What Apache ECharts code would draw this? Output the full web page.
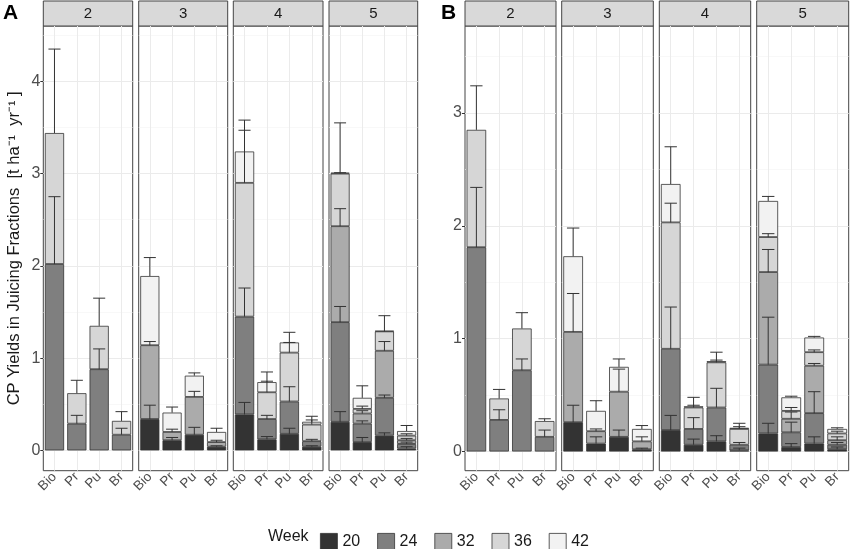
<!DOCTYPE html>
<html>
<head>
<meta charset="utf-8">
<script src="https://cdn.jsdelivr.net/npm/echarts@6.0.0/dist/echarts.min.js"></script>
<style>
  html, body { margin: 0; padding: 0; background: #fff; }
  #main { width: 851px; height: 549px; }
</style>
</head>
<body>
<div id="main"></div>
<script>
const fractions = ['Bio', 'Pr', 'Pu', 'Br'];
const weeks = ['20', '24', '32', '36', '42'];
const cuts = ['2', '3', '4', '5'];
// harvest weeks present in each cut regime (rows of the yield arrays follow this)
const cutWeeks = [['24', '36'], ['20', '32', '42'], ['20', '24', '36', '42'], ['20', '24', '32', '36', '42']];
const weekColors = ['#333333', '#7f7f7f', '#ababab', '#d6d6d6', '#f2f2f2'];
const yTicksA = [0, 1, 2, 3, 4];
const yTicksB = [0, 1, 2, 3];

// panel A - stacked segment heights (t/ha/yr) and sd drawn above each segment
const yieldA2 = [[2.02, 0.29, 0.88, 0.17], [1.42, 0.33, 0.47, 0.15]];
const sdA2    = [[0.73, 0.09, 0.22, 0.07], [0.91, 0.14, 0.30, 0.10]];
const yieldA3 = [[0.34, 0.11, 0.17, 0.04], [0.80, 0.09, 0.41, 0.05], [0.75, 0.21, 0.23, 0.11]];
const sdA3    = [[0.15, 0.03, 0.08, 0.01], [0.04, 0.03, 0.06, 0.02], [0.20, 0.06, 0.03, 0.04]];
const yieldA4 = [[0.39, 0.12, 0.18, 0.04], [1.06, 0.22, 0.35, 0.06], [1.45, 0.29, 0.53, 0.18], [0.34, 0.11, 0.11, 0.03]];
const sdA4    = [[0.13, 0.03, 0.06, 0.01], [0.31, 0.04, 0.16, 0.02], [0.57, 0.12, 0.11, 0.05], [0.34, 0.11, 0.11, 0.06]];
const yieldA5 = [[0.31, 0.09, 0.16, 0.02], [1.08, 0.20, 0.41, 0.05], [1.04, 0.11, 0.51, 0.04], [0.57, 0.05, 0.21, 0.05], [0.01, 0.12, 0.005, 0.05]];
const sdA5    = [[0.11, 0.05, 0.03, 0.02], [0.17, 0.03, 0.03, 0.02], [0.19, 0.03, 0.10, 0.02], [0.01, 0.03, 0.17, 0.02], [0.54, 0.13, 0, 0.06]];

// panel B
const yieldB2 = [[1.81, 0.28, 0.72, 0.13], [1.04, 0.19, 0.37, 0.14]];
const sdB2    = [[0.53, 0.09, 0.10, 0.06], [0.39, 0.08, 0.14, 0.02]];
const yieldB3 = [[0.26, 0.07, 0.13, 0.02], [0.80, 0.11, 0.40, 0.07], [0.67, 0.18, 0.22, 0.11]];
const sdB3    = [[0.15, 0.06, 0.06, 0.01], [0.34, 0.02, 0.20, 0.04], [0.25, 0.09, 0.07, 0.03]];
const yieldB4 = [[0.19, 0.06, 0.09, 0.01], [0.72, 0.14, 0.30, 0.05], [1.12, 0.19, 0.40, 0.14], [0.34, 0.01, 0.01, 0.01]];
const sdB4    = [[0.13, 0.05, 0.05, 0.02], [0.37, 0.10, 0.17, 0.02], [0.17, 0.09, 0.09, 0.05], [0.33, 0.01, 0.01, 0.01]];
const yieldB5 = [[0.16, 0.04, 0.07, 0.02], [0.61, 0.13, 0.27, 0.04], [0.82, 0.12, 0.42, 0.04], [0.31, 0.07, 0.12, 0.06], [0.32, 0.12, 0.13, 0.04]];
const sdB5    = [[0.09, 0.03, 0.06, 0.02], [0.42, 0.09, 0.19, 0.02], [0.20, 0.06, 0.02, 0.03], [0.03, 0.03, 0.02, 0.02], [0.04, 0.01, 0.01, 0.01]];

const panels = [
  { letter: 'A', yields: [yieldA2, yieldA3, yieldA4, yieldA5], sds: [sdA2, sdA3, sdA4, sdA5],
    lefts: [43.3, 138.7, 233.3, 329], rights: [132.7, 227.7, 323, 417.7], min: -0.22, max: 4.6, ticks: yTicksA, letterX: 3 },
  { letter: 'B', yields: [yieldB2, yieldB3, yieldB4, yieldB5], sds: [sdB2, sdB3, sdB4, sdB5],
    lefts: [465, 561.7, 659.3, 756.7], rights: [556, 653.3, 750.7, 848.7], min: -0.17, max: 3.77, ticks: yTicksB, letterX: 441 }
];

const TOP = 26, BOTTOM = 470.7;
const FONT = 'Liberation Sans';

const grids = [], xAxes = [], yAxes = [], series = [], graphics = [];

function errorBarItem(params, api) {
  const x = api.value(0);
  const top = api.coord([x, api.value(1)]);
  const hi = api.coord([x, api.value(2)]);
  const half = api.size([1, 0])[0] * 0.27;
  return {
    type: 'group',
    children: [
      { type: 'line', shape: { x1: top[0], y1: top[1], x2: hi[0], y2: hi[1] }, style: { stroke: '#333', lineWidth: 1 } },
      { type: 'line', shape: { x1: hi[0] - half, y1: hi[1], x2: hi[0] + half, y2: hi[1] }, style: { stroke: '#333', lineWidth: 1 } }
    ]
  };
}

panels.forEach(function (p, pi) {
  graphics.push({ type: 'text', x: p.letterX, y: 3, style: { text: p.letter, font: 'bold 21px ' + FONT, fill: '#000' } });
  cuts.forEach(function (cut, ci) {
    const gi = grids.length;
    const left = p.lefts[ci], right = p.rights[ci];
    grids.push({ left: left, top: TOP, width: right - left, height: BOTTOM - TOP,
      show: true, backgroundColor: '#fff', borderColor: '#444', borderWidth: 1 });
    xAxes.push({
      type: 'category', gridIndex: gi, data: fractions,
      axisLine: { show: false },
      axisTick: { show: true, alignWithLabel: true, length: 3, lineStyle: { color: '#333' } },
      axisLabel: { rotate: 45, interval: 0, hideOverlap: false, fontSize: 13.5, color: '#4d4d4d', fontFamily: FONT, margin: 4 },
      splitLine: { show: false }
    });
    const first = ci === 0;
    yAxes.push({
      type: 'value', gridIndex: gi, min: p.min, max: p.max,
      axisLine: { show: false },
      axisTick: { show: first, length: 3, customValues: p.ticks, lineStyle: { color: '#333' } },
      axisLabel: { show: first, customValues: p.ticks, fontSize: 16, color: '#4d4d4d', fontFamily: FONT, margin: 3 },
      splitLine: { show: false },
      name: (first && pi === 0) ? 'CP Yields in Juicing Fractions  [t ha\u207B\u00B9  yr\u207B\u00B9 ]' : '',
      nameLocation: 'middle', nameGap: 20,
      nameTextStyle: { fontSize: 16.5, color: '#1a1a1a', fontFamily: FONT }
    });

    // panel grid lines through the axis scales
    const gl = [];
    p.ticks.forEach(function (t) {
      gl.push({ yAxis: t, lineStyle: { color: '#ebebeb', width: 1, type: 'solid' } });
    });
    p.ticks.forEach(function (t) {
      if (t + 0.5 < p.max) gl.push({ yAxis: t + 0.5, lineStyle: { color: '#f4f4f4', width: 0.6, type: 'solid' } });
    });
    fractions.forEach(function (f, fi) {
      gl.push({ xAxis: fi, lineStyle: { color: '#ebebeb', width: 1, type: 'solid' } });
    });
    series.push({
      type: 'line', xAxisIndex: gi, yAxisIndex: gi, data: [], z: 1, silent: true,
      markLine: { z: 1, silent: true, symbol: ['none', 'none'], label: { show: false }, animation: false, data: gl }
    });

    const ys = p.yields[ci], sds = p.sds[ci];
    const cum = [0, 0, 0, 0];
    const err = [];
    cutWeeks[ci].forEach(function (w, k) {
      series.push({
        name: w, type: 'bar', stack: 's' + gi, xAxisIndex: gi, yAxisIndex: gi,
        data: ys[k], barWidth: '86%', z: 2,
        itemStyle: { color: weekColors[weeks.indexOf(w)], borderColor: '#333', borderWidth: 0.8 }
      });
      ys[k].forEach(function (v, fi) {
        cum[fi] += v;
        if (sds[k][fi] > 0) err.push([fi, cum[fi], cum[fi] + sds[k][fi]]);
      });
    });
    series.push({
      type: 'custom', xAxisIndex: gi, yAxisIndex: gi, z: 3, silent: true,
      renderItem: errorBarItem, data: err
    });

    graphics.push({ type: 'rect', shape: { x: left, y: 1, width: right - left, height: TOP - 1 },
      style: { fill: '#d9d9d9', stroke: '#444', lineWidth: 1 } });
    graphics.push({ type: 'text', x: (left + right) / 2, y: 14,
      style: { text: cut, font: '15px ' + FONT, fill: '#1a1a1a', align: 'center', verticalAlign: 'middle' } });
  });
});

graphics.push({ type: 'text', x: 268, y: 537,
  style: { text: 'Week', font: '16px ' + FONT, fill: '#1a1a1a', verticalAlign: 'middle' } });

const chart = echarts.init(document.getElementById('main'), null, { renderer: 'canvas' });
chart.setOption({
  animation: false,
  backgroundColor: '#fff',
  textStyle: { fontFamily: FONT },
  grid: grids,
  xAxis: xAxes,
  yAxis: yAxes,
  legend: {
    data: weeks, left: 315, top: 528, icon: 'rect', itemWidth: 17, itemHeight: 17, itemGap: 17,
    selectedMode: false,
    itemStyle: { borderColor: '#333', borderWidth: 0.8 },
    textStyle: { fontSize: 16, color: '#1a1a1a', fontFamily: FONT }
  },
  graphic: graphics,
  series: series
});
</script>
</body>
</html>
